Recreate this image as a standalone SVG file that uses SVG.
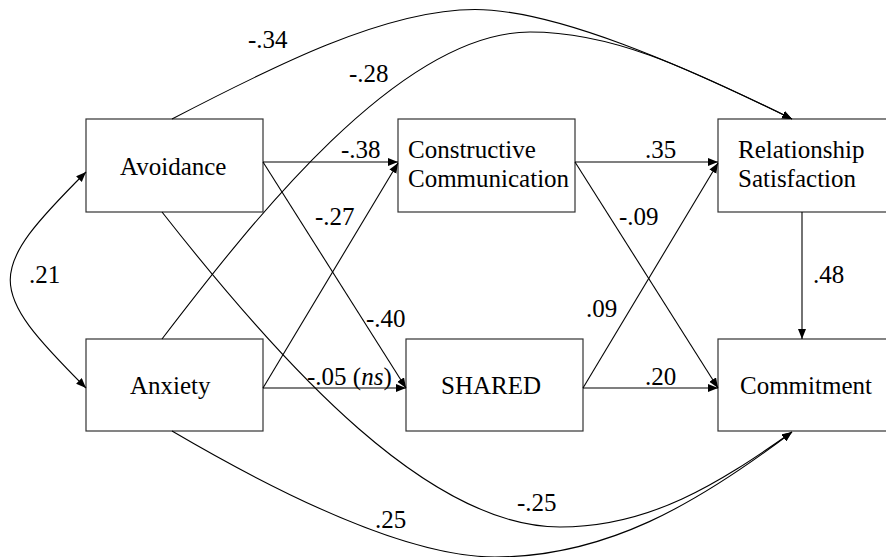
<svg xmlns="http://www.w3.org/2000/svg" width="886" height="557" viewBox="0 0 886 557">
<style>
.box{fill:#fff;stroke:#333;stroke-width:1.2}
.t{font-family:"Liberation Serif","Times New Roman",serif;font-size:25px;fill:#000}
.c{fill:none;stroke:#000;stroke-width:1.1}
.a{marker-end:url(#ah)}
</style>
<defs>
<marker id="ah" markerUnits="userSpaceOnUse" markerWidth="12" markerHeight="10" refX="10" refY="4" orient="auto">
<path d="M0,0 L10,4 L0,8 z" fill="#000"/>
</marker>
<marker id="as" markerUnits="userSpaceOnUse" markerWidth="12" markerHeight="10" refX="10" refY="4" orient="auto-start-reverse">
<path d="M0,0 L10,4 L0,8 z" fill="#000"/>
</marker>
</defs>
<g id="nodes">
<g id="avoidance"><rect class="box" x="86" y="119" width="177" height="93"/><text class="t" x="120" y="175">Avoidance</text></g>
<g id="anxiety"><rect class="box" x="86" y="339" width="177" height="92"/><text class="t" x="130" y="394">Anxiety</text></g>
<g id="constructive"><rect class="box" x="398" y="119" width="177" height="93"/><text class="t" x="408" y="158">Constructive</text><text class="t" x="408" y="187">Communication</text></g>
<g id="shared"><rect class="box" x="406" y="339" width="177" height="92"/><text class="t" x="441" y="394">SHARED</text></g>
<g id="satisfaction"><rect class="box" x="718" y="119" width="200" height="93"/><text class="t" x="738" y="158">Relationship</text><text class="t" x="738" y="187">Satisfaction</text></g>
<g id="commitment"><rect class="box" x="718" y="339" width="200" height="92"/><text class="t" x="740" y="394">Commitment</text></g>
</g>
<g id="connectors">
<line class="c a" x1="263" y1="162" x2="398" y2="162"/>
<line class="c a" x1="263" y1="162" x2="406" y2="388"/>
<line class="c a" x1="263" y1="388" x2="406" y2="388"/>
<line class="c a" x1="263" y1="388" x2="398" y2="163"/>
<line class="c a" x1="575" y1="162" x2="718" y2="162"/>
<line class="c a" x1="575" y1="162" x2="718" y2="388"/>
<line class="c a" x1="583" y1="388" x2="718" y2="163"/>
<line class="c a" x1="583" y1="388" x2="718" y2="388"/>
<line class="c a" x1="802" y1="212" x2="802" y2="339"/>
<path class="c a" d="M172,119 C272,67 385,9.5 475,9.5 C555,9.5 682,65 792,119"/>
<path class="c a" d="M162,339 C253,220 400,32 530,32 C610,32 682,65 792,119"/>
<path class="c a" d="M162,212 C286,370 430,527 560,527 C650,527 718,484 792,432"/>
<path class="c a" d="M172,431 C276,492 405,557 495,557 C605,557 696,505 792,432"/>
<path class="c" marker-start="url(#as)" marker-end="url(#ah)" d="M86,172 C-15,273 -15,287 86,388"/>
</g>
<g id="labels">
<text class="t" x="248" y="48">-.34</text>
<text class="t" x="349" y="82">-.28</text>
<text class="t" x="341" y="158">-.38</text>
<text class="t" x="315" y="225">-.27</text>
<text class="t" x="366" y="327">-.40</text>
<text class="t" x="307" y="385">-.05 (<tspan font-style="italic">ns</tspan>)</text>
<text class="t" x="645" y="158">.35</text>
<text class="t" x="619" y="225">-.09</text>
<text class="t" x="586" y="317">.09</text>
<text class="t" x="645" y="385">.20</text>
<text class="t" x="813" y="283">.48</text>
<text class="t" x="29" y="283">.21</text>
<text class="t" x="375" y="528">.25</text>
<text class="t" x="517" y="511">-.25</text>
</g>
</svg>
